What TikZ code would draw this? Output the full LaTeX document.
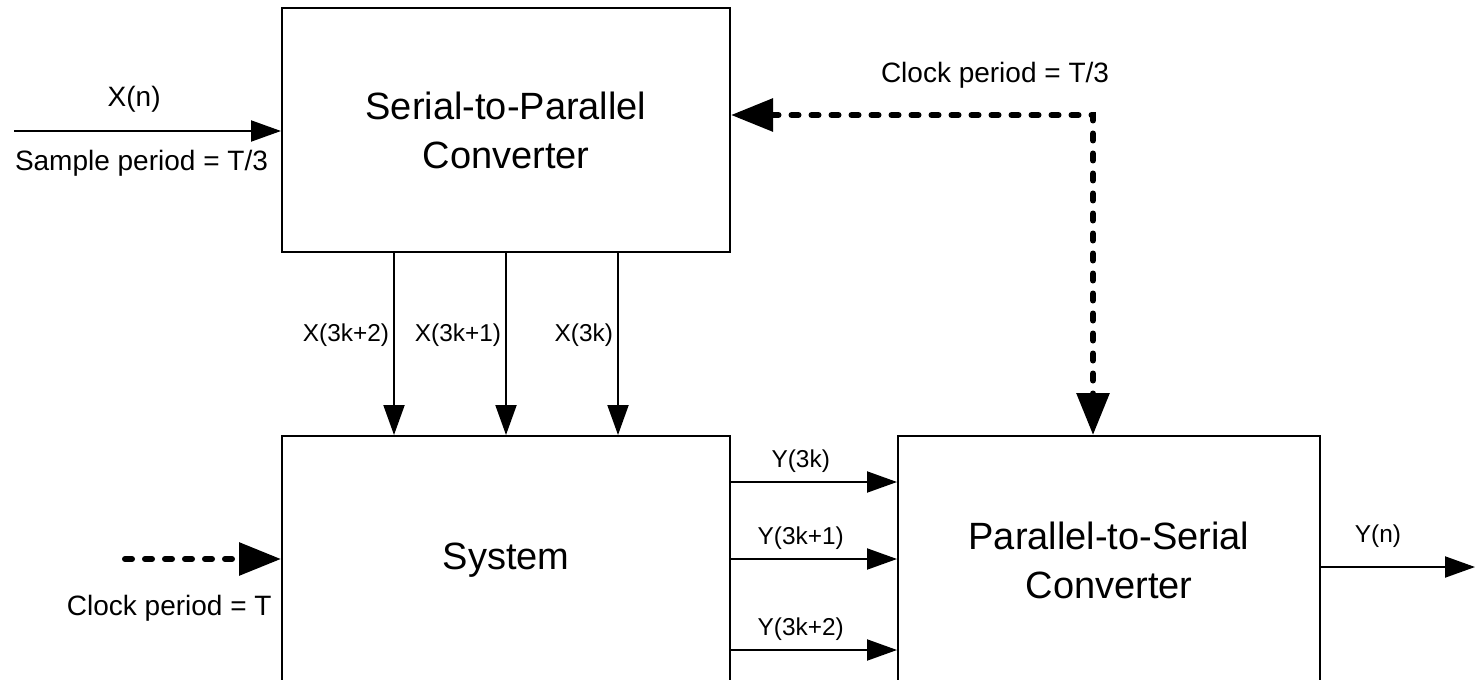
\documentclass[tikz,border=0pt]{standalone}
\usepackage{fontspec}
\setmainfont{Liberation Sans}
\usetikzlibrary{arrows.meta,positioning,calc}

\begin{document}
\begin{tikzpicture}[x=0.5pt, y=-0.5pt,
    block/.style={draw, line width=1pt, minimum width=224pt, minimum height=122pt,
                  inner sep=0pt, align=center, font=\fontsize{19}{24.5}\selectfont},
    sig/.style={line width=1pt, -{Triangle[length=15pt, width=10.5pt]}},
    clk/.style={line width=3pt, line cap=round, dash pattern=on 3.5pt off 6.5pt},
    clktip/.tip={Triangle[length=21pt, width=16pt]},
    lbl/.style={font=\fontsize{14}{16}\selectfont, inner sep=0pt},
    sublbl/.style={font=\fontsize{12.2}{14}\selectfont, inner sep=0pt}]

    \useasboundingbox (0,0) rectangle (1475,679);

    % blocks
    \node[block] (sp) at (506,130) {Serial-to-Parallel\\Converter};
    \node[block, minimum height=124pt] (sys) at (506,560) {System};
    \node[block, minimum width=211pt, minimum height=124pt] (ps) at (1109,560)
        {Parallel-to-Serial\\Converter};

    % serial input
    \coordinate (xin) at (14,131);
    \draw[sig] (xin) -- (xin -| sp.west)
        node[pos=0.45, above=9pt, lbl] (xnlbl) {X(n)}
        node[pos=0, below right=9pt and 0pt, lbl] (samplbl) {Sample period = T/3};

    % parallel samples into the system
    \foreach \dx/\name in {-112/{X(3k+2)}, 0/{X(3k+1)}, 112/{X(3k)}} {
        \draw[sig] ($(sp.south)+(\dx,0)$) -- ($(sys.north)+(\dx,0)$)
            node[pos=0.45, left=2pt, sublbl] {\name};
    }

    % parallel outputs
    \foreach \y/\name in {482/{Y(3k)}, 559/{Y(3k+1)}, 650/{Y(3k+2)}} {
        \draw[sig] (sys.east |- 0,\y) -- (ps.west |- 0,\y)
            node[pos=0.42, above=4pt, sublbl] {\name};
    }

    % serial output
    \coordinate (yout) at (1475,567);
    \draw[sig] (ps.east |- yout) -- (yout)
        node[pos=0.37, above=9pt, sublbl] (ynlbl) {Y(n)};

    % clocks
    \coordinate (clkin) at (125,559);
    \draw[clk, -clktip] (clkin) -- (clkin -| sys.west);
    \node[lbl, anchor=north east] (clkTlbl) at (272,595) {Clock period = T};

    \coordinate (bend) at (1093,115);
    \draw[clk, clktip-clktip] (sp.east |- bend) -- (bend) -- (bend |- ps.north);
    \node[lbl] (clk3lbl) at (995,75) {Clock period = T/3};
\end{tikzpicture}
\end{document}
